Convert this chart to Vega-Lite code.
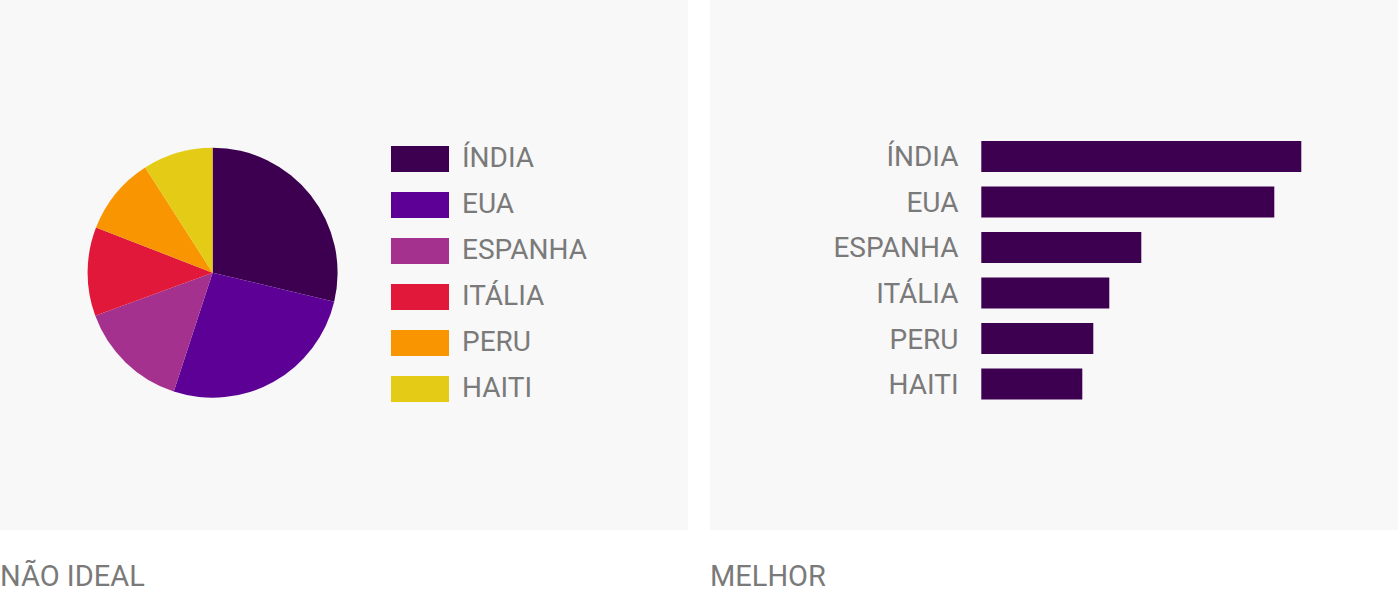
{
  "$schema": "https://vega.github.io/schema/vega-lite/v6.json",
  "padding": 0,
  "autosize": {"type": "pad"},
  "background": "white",
  "spacing": 22,
  "config": {
    "view": {"fill": "#f8f8f8", "stroke": null},
    "font": "Roboto",
    "title": {"fontSize": 29, "fontWeight": "normal", "color": "#7a7a7a", "anchor": "start", "orient": "bottom", "frame": "group", "offset": 33}
  },
  "datasets": {
    "paises": [
      {"pais": "ÍNDIA", "valor": 320, "ordem": 1},
      {"pais": "EUA", "valor": 293, "ordem": 2},
      {"pais": "ESPANHA", "valor": 160, "ordem": 3},
      {"pais": "ITÁLIA", "valor": 128, "ordem": 4},
      {"pais": "PERU", "valor": 112, "ordem": 5},
      {"pais": "HAITI", "valor": 101, "ordem": 6}
    ]
  },
  "hconcat": [
    {
      "width": 688,
      "height": 530,
      "title": {"text": "NÃO IDEAL"},
      "data": {"name": "paises"},
      "mark": {"type": "arc", "outerRadius": 125, "stroke": null},
      "encoding": {
        "x": {"datum": 0.309, "type": "quantitative", "scale": {"domain": [0, 1], "nice": false, "zero": false}, "axis": null},
        "y": {"datum": 0.4855, "type": "quantitative", "scale": {"domain": [0, 1], "nice": false, "zero": false}, "axis": null},
        "theta": {"field": "valor", "type": "quantitative", "stack": true},
        "order": {"field": "ordem", "type": "quantitative", "sort": "ascending"},
        "color": {
          "field": "pais",
          "type": "nominal",
          "sort": ["ÍNDIA", "EUA", "ESPANHA", "ITÁLIA", "PERU", "HAITI"],
          "scale": {
            "domain": ["ÍNDIA", "EUA", "ESPANHA", "ITÁLIA", "PERU", "HAITI"],
            "range": ["#3d0050", "#5d0096", "#a5318e", "#e1183a", "#f89500", "#e4cb16"]
          },
          "legend": {
            "title": null,
            "orient": "none",
            "legendX": 391,
            "legendY": 130,
            "symbolType": "M-1,-0.45H1V0.45H-1Z",
            "symbolSize": 3364,
            "symbolStrokeWidth": 0,
            "symbolOpacity": 1,
            "labelFontSize": 28,
            "labelColor": "#7a7a7a",
            "labelFont": "Roboto",
            "labelOffset": 13,
            "labelLimit": 400,
            "rowPadding": 3,
            "padding": 0
          }
        }
      }
    },
    {
      "width": 688,
      "height": 530,
      "title": {"text": "MELHOR"},
      "data": {"name": "paises"},
      "mark": {"type": "bar", "color": "#3d0050"},
      "encoding": {
        "y": {
          "field": "pais",
          "type": "nominal",
          "sort": ["ÍNDIA", "EUA", "ESPANHA", "ITÁLIA", "PERU", "HAITI"],
          "scale": {"range": [141, 399.5], "paddingInner": 0.319, "paddingOuter": 0, "round": false},
          "axis": {
            "title": null,
            "orient": "left",
            "offset": -258,
            "labelPadding": 10,
            "labelOffset": 2,
            "ticks": false,
            "tickSize": 0,
            "domain": false,
            "grid": false,
            "labelFontSize": 28,
            "labelColor": "#7a7a7a",
            "labelFont": "Roboto",
            "labelLimit": 300
          }
        },
        "x": {
          "field": "valor",
          "type": "quantitative",
          "scale": {"domain": [-271.3, 416.7], "nice": false},
          "axis": null
        }
      }
    }
  ]
}
